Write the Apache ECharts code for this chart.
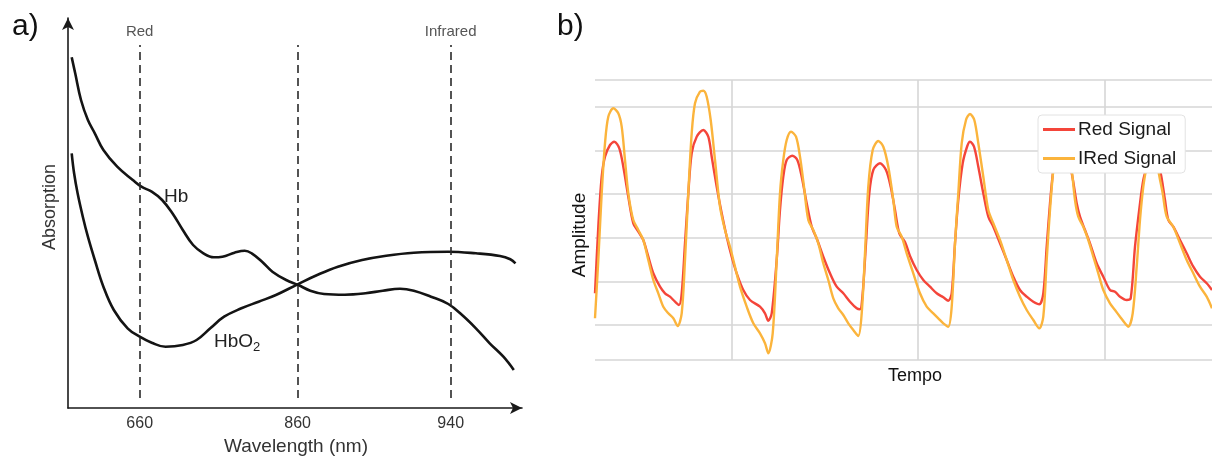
<!DOCTYPE html>
<html>
<head>
<meta charset="utf-8">
<script src="https://cdn.jsdelivr.net/npm/echarts@6/dist/echarts.min.js"></script>
<style>
html,body{margin:0;padding:0;background:#fff;}
#chart{width:1212px;height:457px;}
</style>
</head>
<body>
<div id="chart"></div>
<script>
// ---------- Panel a: absorption spectra (x: relative spectral position, y: relative absorption) ----------
const hbCurve = [[3.7,350.7],[7.2,334.7],[13,308],[19.9,288],[26.8,274.7],[35.4,258],[49.2,241.3],[64.8,228],[73.4,221.3],[83.7,216.3],[94.1,208],[104.4,194.7],[114.8,178],[125.1,163],[135.4,154.7],[145.8,150.7],[154.4,151.3],[166.5,155.3],[176.8,157.3],[183.7,154.7],[194.1,146.3],[204.4,136.3],[218.2,128],[230.3,123],[242.3,117.3],[256.1,114],[276.8,113.3],[297.5,114.7],[314.8,117.3],[332,119.3],[345.8,117.3],[363,111.3],[380.3,104],[394.1,93],[407.9,79.7],[421.7,64.7],[435.4,51.3],[445.8,38]];
const hbo2Curve = [[3.7,254.7],[6.1,234.7],[9.6,214.7],[14.8,191.3],[19.9,171.3],[26.8,148],[35.4,121.3],[45.8,98],[59.6,79.7],[71.7,71.3],[83.7,65.3],[97.5,61.3],[114.8,63],[128.6,68],[142.3,79.7],[156.1,91.3],[173.4,99.7],[190.6,106.3],[207.9,113],[229.6,123.7],[249.2,133],[269.9,141.3],[294.1,148],[318.2,152.3],[345.8,155.3],[380.3,156.3],[407.9,154.7],[432,152],[442.3,148.7],[447.5,144.7]];
const specTickPos = [71.7, 229.6, 382.7];
const specTickLabels = ['660', '860', '940'];
const specLineNames = ['Red', '', 'Infrared'];

// ---------- Panel b: PPG signals (x: time, y: amplitude) ----------
const redSignal = [[0,66.7],[3.3,133.3],[6.7,183.3],[10,203.3],[15,215],[19.3,218.3],[24.3,211.7],[28.3,193.3],[33.3,163.3],[38.3,136.7],[43.3,128.3],[48.3,120],[53.3,103.3],[58.3,86.7],[65,73.3],[70,66.7],[75,63.3],[80,58.3],[84,55],[86.7,66.7],[90,116.7],[93.3,166.7],[96.7,206.7],[101.7,223.3],[108.3,230],[113.3,223.3],[116.7,203.3],[121.7,173.3],[126.7,146.7],[131.7,123.3],[136.7,103.3],[141.7,86.7],[148.3,70],[155,60],[165,53.3],[170,46.7],[173.3,39.3],[176.7,46.7],[181.7,100],[185,150],[188.3,183.3],[191.7,200],[197.3,204.3],[202.3,200],[206.7,183.3],[211.7,156.7],[216.7,133.3],[222.3,120],[228.3,103.3],[235,86.7],[241.7,73.3],[248.3,66.7],[255,58.3],[261.7,51.7],[265,50.7],[267.7,66.7],[271,116.7],[274.3,166.7],[278.3,190],[285,196.7],[291,190],[295.7,173.3],[300,150],[304.3,126.7],[310,118],[315,104],[321.7,90],[328.3,80],[335,73.3],[341.7,66.7],[348.3,62.7],[353.3,59.3],[356.7,66.7],[360,116.7],[363.3,160],[367.7,196.7],[372.3,214],[375,218.3],[379,213.3],[383.3,193.3],[388.3,166.7],[393.3,143.3],[398.3,133.3],[405,116.7],[411.7,100],[418.3,83.3],[425,70],[431.7,63.3],[438.3,58.3],[444.3,55.7],[448.3,66.7],[451.7,113.3],[455,156.7],[458.3,190],[461.7,206.7],[466.7,215],[471.7,203.3],[476.7,186.7],[481.7,156.7],[485,143.3],[490,130],[495,116.7],[501.7,96.7],[508.3,83.3],[515,70],[520,68.3],[525,63.3],[531.7,60],[535.7,61.7],[540,113.3],[545,156.7],[548.3,180],[551.7,192],[556.7,205],[560,200],[565,190],[570,160],[573.3,140],[578.3,133.3],[585,120],[591.7,106.7],[598.3,93.3],[605,83.3],[611.7,76.7],[617,70]];
const iredSignal = [[0,41.7],[3.3,100],[6.7,166.7],[10,216.7],[13.3,243.3],[18.3,251.7],[23.3,246.7],[26.7,233.3],[30,200],[33.3,166.7],[38.3,140],[43.3,130],[48.3,120],[53.3,100],[58.3,80],[63.3,66.7],[68.3,53.3],[73.3,46.7],[78.3,41.7],[82.7,34],[86.7,46.7],[90,100],[93.3,166.7],[96.7,226.7],[100,256.7],[105,268.3],[108.3,269.3],[111.7,263.3],[115.7,240],[120,200],[125,153.3],[130,130],[135,113.3],[140,93.3],[145,73.3],[151.7,53.3],[158.3,36.7],[165,26.7],[170,16.7],[173.3,6.7],[177.7,26.7],[181.7,100],[185,166.7],[188.3,200],[191.7,220],[196,228.3],[201,223.3],[205,203.3],[209,173.3],[213.3,140],[218.3,130],[223.3,116.7],[228.3,96.7],[233.3,80],[238.3,61.7],[243.3,51.7],[248.3,45],[253.3,36.7],[258.3,30],[263.3,24],[266.7,46.7],[270,106.7],[273.3,173.3],[277.7,210],[283.3,219],[288.3,213.3],[293.3,193.3],[298.3,160],[301.7,133.3],[306.7,123.3],[311.7,106.7],[318.3,86.7],[325,66.7],[331.7,53.3],[338.3,46.7],[343.3,41.7],[348.3,36.7],[353.3,33.3],[356.7,53.3],[360,116.7],[363.3,166.7],[366.7,216.7],[371,240],[375,246],[379.3,240],[383.3,216.7],[388.3,183.3],[393.3,150],[398.3,136.7],[405,120],[411.7,100],[418.3,80],[425,63.3],[431.7,50],[438.3,40],[444.3,31.7],[448.3,43.3],[451.7,100],[455,150],[458.3,190],[461.7,213.3],[466.7,231.7],[471.7,220],[476.7,190],[480,160],[483.3,143.3],[488.3,133.3],[493.3,120],[498.3,103.3],[503.3,86.7],[508.3,70],[515,56.7],[520,50],[525,43.3],[530,36.7],[533.3,33.3],[537.7,46.7],[541.7,93.3],[545,140],[548.3,173.3],[551.7,195],[555,218],[558,224],[561,214],[563.3,190],[567.7,166.7],[571.7,143.3],[578.3,133.3],[585,116.7],[591.7,100],[598.3,86.7],[605,73.3],[611.7,63.3],[617,51.7]];
const ppgGridY = [0, 35, 78.6, 122.2, 165.8, 209.4, 253, 280];
const ppgGridX = [137, 323, 510];
const seriesNames = ['Red Signal', 'IRed Signal'];

const FONT = '"Liberation Sans", Arial, Helvetica, sans-serif';
const chart = echarts.init(document.getElementById('chart'), null, {renderer: 'canvas'});

const specMarkLines = specTickPos.map((p, i) => [
  {coord: [p, 10], label: {show: specLineNames[i] !== '', formatter: specLineNames[i]}},
  {coord: [p, 363]}
]);

const option = {
  backgroundColor: '#ffffff',
  animation: false,
  textStyle: {fontFamily: FONT},
  grid: [
    {left: 68, top: 18, width: 454, height: 390},
    {left: 595, top: 80, right: 0, bottom: 97}
  ],
  xAxis: [
    {
      gridIndex: 0, type: 'value', min: 0, max: 454,
      axisLine: {show: true, lineStyle: {color: '#1a1a1a', width: 1.6}, symbol: ['none', 'arrow'], symbolSize: [9, 12]},
      axisTick: {show: false, customValues: specTickPos},
      splitLine: {show: false},
      axisLabel: {
        show: true, customValues: specTickPos, margin: 8,
        color: '#333', fontSize: 16, fontFamily: FONT,
        formatter: function (v) {
          let best = 0;
          for (let i = 0; i < specTickPos.length; i++) {
            if (Math.abs(specTickPos[i] - v) < Math.abs(specTickPos[best] - v)) best = i;
          }
          return specTickLabels[best];
        }
      }
    },
    {
      gridIndex: 1, type: 'value', min: 0, max: 617,
      axisLine: {show: false},
      axisTick: {show: false, customValues: ppgGridX},
      axisLabel: {show: false},
      splitLine: {show: true, lineStyle: {color: '#d6d6d6', width: 1.6}}
    }
  ],
  yAxis: [
    {
      gridIndex: 0, type: 'value', min: 0, max: 390,
      axisLine: {show: true, lineStyle: {color: '#1a1a1a', width: 1.6}, symbol: ['none', 'arrow'], symbolSize: [9, 12]},
      axisTick: {show: false},
      axisLabel: {show: false},
      splitLine: {show: false}
    },
    {
      gridIndex: 1, type: 'value', min: 0, max: 280,
      axisLine: {show: false},
      axisTick: {show: false, customValues: ppgGridY},
      axisLabel: {show: false},
      splitLine: {show: true, lineStyle: {color: '#d6d6d6', width: 1.6}}
    }
  ],
  legend: {
    data: seriesNames,
    orient: 'vertical',
    left: 1038, top: 115,
    z: 50, zlevel: 1,
    padding: [5, 9, 5, 5],
    itemGap: 10,
    itemWidth: 32, itemHeight: 3,
    icon: 'rect',
    backgroundColor: '#ffffff',
    borderColor: '#e2e2e2', borderWidth: 1, borderRadius: 4,
    textStyle: {color: '#1a1a1a', fontSize: 19, fontFamily: FONT, padding: [0, 0, 0, -2]}
  },
  series: [
    {
      name: 'Hb', type: 'line', xAxisIndex: 0, yAxisIndex: 0,
      data: hbCurve, smooth: 0.4, showSymbol: false, silent: true,
      lineStyle: {color: '#141414', width: 2.6},
      markLine: {
        silent: true, symbol: ['none', 'none'],
        lineStyle: {color: '#2a2a2a', width: 1.6, type: [8, 5]},
        label: {position: 'end', distance: 6, color: '#555', fontSize: 15, fontFamily: FONT},
        data: specMarkLines
      }
    },
    {
      name: 'HbO2', type: 'line', xAxisIndex: 0, yAxisIndex: 0,
      data: hbo2Curve, smooth: 0.4, showSymbol: false, silent: true,
      lineStyle: {color: '#141414', width: 2.6}
    },
    {
      name: seriesNames[0], type: 'line', xAxisIndex: 1, yAxisIndex: 1,
      data: redSignal, smooth: 0.3, showSymbol: false,
      itemStyle: {color: '#f4453a'},
      lineStyle: {color: '#f4453a', width: 2.4}
    },
    {
      name: seriesNames[1], type: 'line', xAxisIndex: 1, yAxisIndex: 1,
      data: iredSignal, smooth: 0.3, showSymbol: false,
      itemStyle: {color: '#fbb43c'},
      lineStyle: {color: '#fbb43c', width: 2.4}
    }
  ],
  graphic: [
    {type: 'text', x: 12, y: 27, style: {text: 'a)', font: '30px ' + FONT, fill: '#111', verticalAlign: 'middle'}},
    {type: 'text', x: 557, y: 27, style: {text: 'b)', font: '30px ' + FONT, fill: '#111', verticalAlign: 'middle'}},
    {type: 'text', x: 50, y: 207, rotation: Math.PI / 2, style: {text: 'Absorption', font: '18px ' + FONT, fill: '#333', align: 'center', verticalAlign: 'middle'}},
    {type: 'text', x: 296, y: 447, style: {text: 'Wavelength (nm)', font: '19px ' + FONT, fill: '#333', align: 'center', verticalAlign: 'middle'}},
    {type: 'text', x: 164, y: 197, style: {text: 'Hb', font: '19px ' + FONT, fill: '#222', verticalAlign: 'middle'}},
    {type: 'text', x: 214, y: 342, style: {
      text: 'HbO{s|2}', font: '19px ' + FONT, fill: '#222', verticalAlign: 'middle',
      rich: {s: {fontSize: 13, fontFamily: FONT, fill: '#222', padding: [10, 0, 0, 0]}}
    }},
    {type: 'text', x: 580, y: 235, rotation: Math.PI / 2, style: {text: 'Amplitude', font: '19px ' + FONT, fill: '#111', align: 'center', verticalAlign: 'middle'}},
    {type: 'text', x: 915, y: 376, style: {text: 'Tempo', font: '18px ' + FONT, fill: '#111', align: 'center', verticalAlign: 'middle'}}
  ]
};
chart.setOption(option);
</script>
</body>
</html>
